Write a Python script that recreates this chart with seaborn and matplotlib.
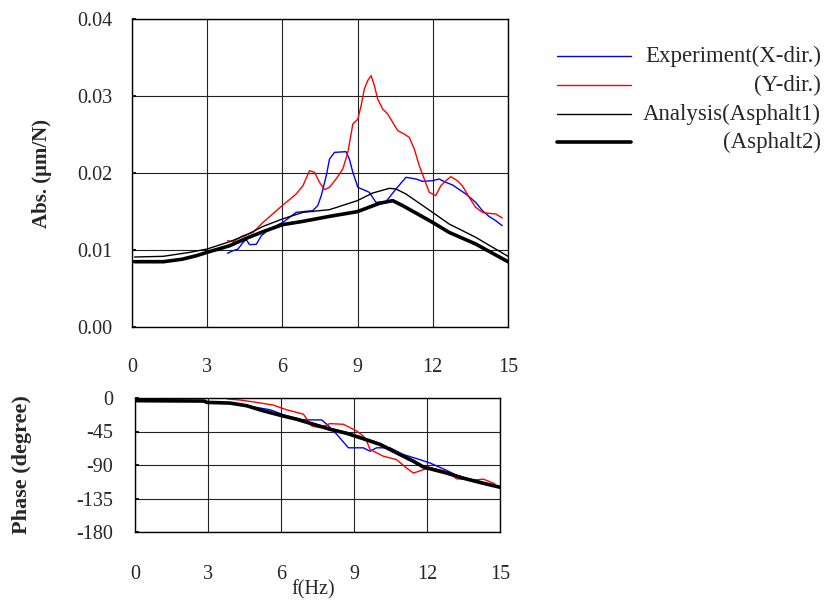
import numpy as np
import pandas as pd
import matplotlib
matplotlib.use("Agg")
import matplotlib.pyplot as plt
from matplotlib.lines import Line2D
import seaborn as sns

# ---------------- data ----------------
# Amplitude
f_a2 = [0.1, 1.25, 2.0, 2.57, 3.0, 3.9, 4.56, 5.23, 6.0, 6.82, 7.88, 8.99, 9.87, 10.4, 10.8, 11.99, 12.65, 13.71, 15.0]
abs_a2 = [0.00848, 0.00848, 0.00880, 0.00926, 0.0097, 0.01056, 0.01152, 0.01238, 0.01329, 0.01372, 0.01437, 0.01498,
          0.01606, 0.01641, 0.01576, 0.01359, 0.01229, 0.01078, 0.00848]

f_a1 = [0.1, 1.25, 2.31, 3.0, 3.9, 4.56, 5.23, 6.0, 6.82, 7.88, 8.99, 9.6, 10.27, 10.53, 10.93, 11.99, 12.65, 13.71, 15.0]
abs_a1 = [0.00909, 0.00918, 0.0097, 0.01013, 0.01108, 0.01195, 0.01307, 0.01403, 0.01489, 0.01524, 0.01641, 0.0174,
          0.01801, 0.01792, 0.01727, 0.01489, 0.01338, 0.01165, 0.00918]

f_x = [3.81, 4.03, 4.23, 4.43, 4.56, 4.69, 4.96, 5.16, 5.49, 6.02, 6.55, 7.21, 7.41, 7.55, 7.75, 7.88, 8.08, 8.54,
       8.67, 8.81, 9.01, 9.47, 9.73, 10.13, 10.53, 10.93, 11.33, 11.59, 11.99, 12.25, 12.52, 12.79, 13.32, 13.71,
       13.98, 14.24, 14.51, 14.77]
abs_x = [0.00957, 0.00991, 0.01013, 0.011, 0.01134, 0.01069, 0.01074, 0.01186, 0.01273, 0.01359, 0.01489, 0.01511,
         0.01576, 0.01706, 0.01965, 0.02182, 0.02268, 0.02277, 0.02182, 0.02009, 0.01814, 0.01749, 0.01619, 0.01628,
         0.01792, 0.01944, 0.01922, 0.01892, 0.019, 0.01922, 0.01879, 0.01844, 0.01727, 0.01619, 0.01511, 0.01437,
         0.01381, 0.01316]

f_y = [3.81, 4.03, 4.43, 4.83, 5.23, 5.76, 6.15, 6.55, 6.82, 7.08, 7.28, 7.48, 7.68, 7.88, 8.14, 8.41, 8.61, 8.81,
       9.01, 9.14, 9.27, 9.40, 9.54, 9.67, 9.80, 10.0, 10.2, 10.4, 10.6, 10.86, 11.06, 11.26, 11.46, 11.66, 11.86,
       12.12, 12.32, 12.52, 12.72, 12.98, 13.18, 13.45, 13.71, 13.98, 14.24, 14.51, 14.77]
abs_y = [0.01121, 0.01108, 0.01186, 0.01229, 0.01359, 0.01511, 0.01619, 0.01727, 0.01835, 0.0203, 0.02009, 0.01879,
         0.01784, 0.01814, 0.01922, 0.02052, 0.02268, 0.02636, 0.02701, 0.02874, 0.03091, 0.03199, 0.03264, 0.03134,
         0.02961, 0.02831, 0.02766, 0.02658, 0.0255, 0.02506, 0.02463, 0.02312, 0.02095, 0.01922, 0.01749, 0.01706,
         0.01835, 0.019, 0.01952, 0.019, 0.01835, 0.01684, 0.01554, 0.01489, 0.01476, 0.01468, 0.01416]

# Phase
fp_a2 = [0.07, 2.84, 2.95, 3.9, 4.59, 5.27, 5.96, 6.64, 7.33, 8.01, 8.70, 9.38, 10.07, 10.75, 11.44, 11.85, 12.81,
         13.49, 14.18, 15.0]
ph_a2 = [-3.6, -4.1, -5.9, -6.8, -10.4, -17.2, -23.1, -28.5, -35.3, -42.0, -47.5, -54.7, -62.4, -73.7, -85.0, -92.7,
         -100.9, -107.7, -113.5, -119.9]
fp_a1 = [0.07, 2.84, 2.95, 3.9, 4.59, 5.27, 5.96, 6.64, 7.33, 8.01, 8.70, 9.38, 10.07, 10.75, 11.44, 11.85, 12.81,
         13.49, 14.18, 15.0]
ph_a1 = [-3.2, -3.6, -5.4, -6.4, -9.8, -16.4, -22.2, -27.6, -34.2, -40.8, -46.3, -53.4, -61.0, -72.2, -83.5, -91.2,
         -99.6, -106.6, -112.6, -119.3]

fp_x = [3.84, 4.59, 5.55, 6.23, 6.92, 7.67, 7.88, 8.29, 8.77, 9.38, 9.66, 9.93, 10.48, 11.03, 11.71, 12.12, 12.81,
        13.49, 14.18, 14.79]
ph_x = [-7.2, -10.4, -15.8, -24.0, -29.4, -29.4, -35.3, -48.8, -66.9, -66.9, -71.5, -66.9, -66.9, -76.0, -82.8,
        -87.3, -97.2, -108.6, -112.2, -118.1]

fp_y = [3.81, 4.32, 5.0, 5.68, 6.23, 6.92, 7.26, 7.60, 8.01, 8.56, 9.11, 9.38, 9.52, 9.66, 10.21, 10.75, 11.16,
        11.44, 11.85, 12.12, 12.81, 13.22, 14.04, 14.32, 14.79]
ph_y = [-1.4, -2.7, -5.9, -9.5, -15.8, -21.7, -37.5, -39.8, -34.4, -35.3, -44.3, -51.1, -57.9, -69.2, -78.2, -82.8,
        -94.1, -100.9, -96.3, -94.1, -98.6, -108.6, -109.9, -109.0, -115.3]

x_ticks = [0, 3, 6, 9, 12, 15]
abs_ticks = [0.00, 0.01, 0.02, 0.03, 0.04]
abs_tick_labels = ["0.00", "0.01", "0.02", "0.03", "0.04"]
ph_ticks = [0, -45, -90, -135, -180]

labels = ["Experiment(X-dir.)", "(Y-dir.)", "Analysis(Asphalt1)", "(Asphalt2)"]
colors = ["#0000ff", "#ff0000", "#000000", "#000000"]
widths = [1.0, 1.0, 1.0, 2.6]

# ---------------- figure ----------------
sns.set_theme(style="white")
plt.rcParams["font.family"] = ["Liberation Serif", "DejaVu Serif"]
plt.rcParams["axes.unicode_minus"] = False

fig = plt.figure(figsize=(8.25, 6.01), dpi=100)
ax1 = fig.add_axes([132 / 825, 1 - 327 / 601, 376 / 825, 308 / 601])
ax2 = fig.add_axes([135 / 825, 1 - 532 / 601, 365 / 825, 134 / 601])

amp_series = [(f_x, abs_x), (f_y, abs_y), (f_a1, abs_a1), (f_a2, abs_a2)]
ph_series = [(fp_x, ph_x), (fp_y, ph_y), (fp_a1, ph_a1), (fp_a2, ph_a2)]

for (fx, fv), c, w in zip(amp_series, colors, widths):
    df = pd.DataFrame({"f": fx, "v": fv})
    sns.lineplot(data=df, x="f", y="v", ax=ax1, color=c, linewidth=w, sort=False, estimator=None)
for (fx, fv), c, w in zip(ph_series, colors, widths):
    df = pd.DataFrame({"f": fx, "v": fv})
    sns.lineplot(data=df, x="f", y="v", ax=ax2, color=c, linewidth=w, sort=False, estimator=None)

for ax in (ax1, ax2):
    ax.set_xlim(0, 15)
    ax.set_xticks(x_ticks)
    ax.set_xlabel("")
    ax.grid(True, color="#222222", linewidth=0.8)
    ax.set_axisbelow(True)
    for s in ax.spines.values():
        s.set_color("black")
        s.set_linewidth(1.0)
    ax.tick_params(axis="x", length=0, labelsize=14.5)
    ax.tick_params(axis="y", direction="in", length=3, labelsize=14.5, left=True, color="black")

ax1.set_ylim(0, 0.04)
ax1.set_yticks(abs_ticks)
ax1.set_yticklabels(abs_tick_labels)
ax1.tick_params(axis="x", pad=22)
ax1.tick_params(axis="y", pad=14)
ax1.set_ylabel("Abs. (μm/N)", fontsize=15, fontweight="bold")
ax1.yaxis.set_label_coords((52 - 132) / 376, 0.5)

ax2.set_ylim(-180, 0)
ax2.set_yticks(ph_ticks)
ax2.tick_params(axis="x", pad=24)
ax2.tick_params(axis="y", pad=16)
ax2.set_ylabel("Phase (degree)", fontsize=16, fontweight="bold")
ax2.yaxis.set_label_coords((32 - 135) / 365, 0.5)

fig.text(313 / 825, 1 - 590 / 601, "f(Hz)", ha="center", va="center", fontsize=14.5)

# legend (drawn manually so that labels are right-aligned)
rows = [56, 85, 114, 142]
for lab, c, w, r in zip(labels, colors, widths, rows):
    yf = 1 - r / 601
    fig.add_artist(Line2D([557 / 825, 631 / 825], [yf, yf], transform=fig.transFigure, color=c, linewidth=w))
    fig.text(821 / 825, yf, lab, ha="right", va="center", fontsize=16.5)

fig.savefig("out.png", dpi=100)
